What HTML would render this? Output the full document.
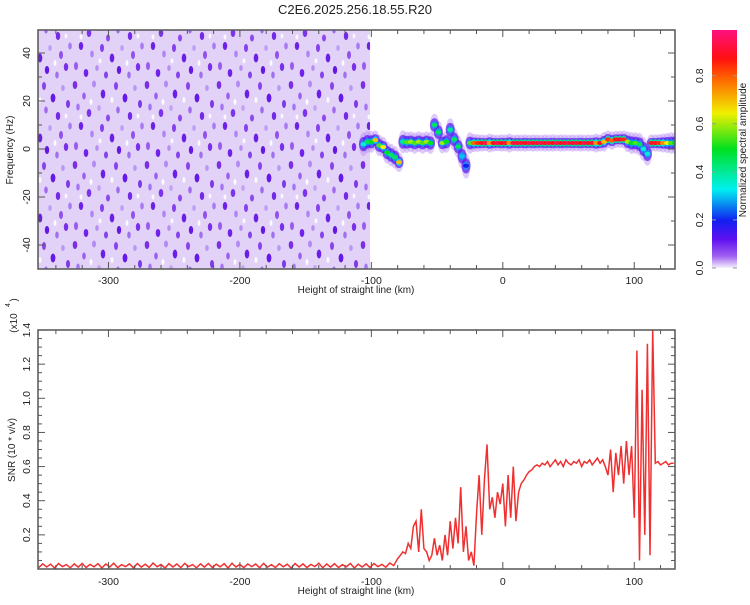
<!DOCTYPE html>
<html><head><meta charset="utf-8"><style>
body{margin:0;background:#fff;}
svg text{font-family:"Liberation Sans",sans-serif;fill:#222;}
</style></head><body>
<svg id="chart" width="750" height="600" xmlns="http://www.w3.org/2000/svg">
<defs>
<pattern id="noise" patternUnits="userSpaceOnUse" width="72" height="80">
<rect width="72" height="80" fill="#e2d2f8"/>
<ellipse cx="3" cy="5" rx="2.3" ry="4" fill="#7a2ee8"/>
<ellipse cx="12" cy="16" rx="1.8" ry="3.5" fill="#9c5cf0"/>
<ellipse cx="22" cy="4" rx="2" ry="3.5" fill="#b48af3"/>
<ellipse cx="31" cy="14" rx="2.3" ry="4.5" fill="#6a1ee6"/>
<ellipse cx="6" cy="27" rx="1.8" ry="3.5" fill="#a576f2"/>
<ellipse cx="17" cy="33" rx="2.3" ry="4" fill="#7c34ea"/>
<ellipse cx="27" cy="28" rx="1.8" ry="3" fill="#c3a2f5"/>
<ellipse cx="36" cy="38" rx="2" ry="3.5" fill="#8e48ee"/>
<ellipse cx="44" cy="6" rx="2" ry="4" fill="#8a44ee"/>
<ellipse cx="53" cy="18" rx="2.4" ry="4.5" fill="#6618e6"/>
<ellipse cx="63" cy="8" rx="1.8" ry="3" fill="#b896f4"/>
<ellipse cx="68" cy="24" rx="2" ry="4" fill="#7f38ea"/>
<ellipse cx="46" cy="30" rx="1.8" ry="3.5" fill="#a06cf0"/>
<ellipse cx="58" cy="36" rx="2.2" ry="4" fill="#7428e8"/>
<ellipse cx="9" cy="46" rx="2.2" ry="4" fill="#6c22e6"/>
<ellipse cx="20" cy="54" rx="1.8" ry="3.5" fill="#b084f3"/>
<ellipse cx="30" cy="48" rx="2" ry="4" fill="#8440ec"/>
<ellipse cx="40" cy="58" rx="2.3" ry="4.5" fill="#6a1ee6"/>
<ellipse cx="50" cy="48" rx="1.8" ry="3" fill="#c0a0f5"/>
<ellipse cx="61" cy="55" rx="2" ry="4" fill="#9050ee"/>
<ellipse cx="70" cy="46" rx="1.8" ry="3.5" fill="#a878f2"/>
<ellipse cx="4" cy="66" rx="2" ry="4" fill="#9a5af0"/>
<ellipse cx="14" cy="73" rx="2.3" ry="4" fill="#7022e8"/>
<ellipse cx="25" cy="68" rx="1.8" ry="3" fill="#b890f4"/>
<ellipse cx="34" cy="75" rx="2" ry="3.5" fill="#8444ec"/>
<ellipse cx="47" cy="70" rx="2.2" ry="4" fill="#6418e4"/>
<ellipse cx="57" cy="75" rx="1.8" ry="3.5" fill="#a070f0"/>
<ellipse cx="66" cy="67" rx="2.2" ry="4" fill="#7a30e8"/>
<ellipse cx="19" cy="22" rx="1.5" ry="3" fill="#fbf8fe"/>
<ellipse cx="9" cy="37" rx="1.5" ry="2.5" fill="#fbf8fe"/>
<ellipse cx="40" cy="20" rx="1.5" ry="3" fill="#fbf8fe"/>
<ellipse cx="55" cy="63" rx="1.5" ry="3" fill="#fbf8fe"/>
<ellipse cx="28" cy="61" rx="1.5" ry="2.5" fill="#fbf8fe"/>
<ellipse cx="66" cy="36" rx="1.3" ry="2.5" fill="#fbf8fe"/>
</pattern>
<clipPath id="topclip"><rect x="38" y="30" width="637" height="239"/></clipPath>
<clipPath id="botclip"><rect x="38" y="330" width="637" height="239"/></clipPath>
<linearGradient id="cbar" x1="0" y1="1" x2="0" y2="0">
<stop offset="0" stop-color="#f6f0fc"/><stop offset="0.05" stop-color="#a060f0"/>
<stop offset="0.12" stop-color="#6010f0"/><stop offset="0.2" stop-color="#1020f0"/>
<stop offset="0.33" stop-color="#00f0f0"/><stop offset="0.5" stop-color="#00e020"/>
<stop offset="0.65" stop-color="#f0f000"/><stop offset="0.8" stop-color="#ff6000"/>
<stop offset="0.88" stop-color="#ff1010"/><stop offset="1" stop-color="#ff1080"/>
</linearGradient>
</defs>
<text x="355" y="14" font-size="13" text-anchor="middle">C2E6.2025.256.18.55.R20</text>
<g id="top"></g>
<g id="bot"></g>
<g id="cb"></g>
</svg>
<script>
// ---- data ----
const xTicks = [-300,-200,-100,0,100];
const fTicks = [-40,-20,0,20,40];
const snrTicks = [0.2,0.4,0.6,0.8,1.0,1.2,1.4];
const cbTicks = [0.0,0.2,0.4,0.6,0.8];
const bandX = [-106,-103,-100,-97,-94,-91,-88,-85,-82,-79,-76,-73,-70,-67,-64,-61,-58,-55,-52,-49,-46,-43,-40,-37,-34,-31,-28,-25,-22,-19,-16,-13,-10,-7,-4,-1,2,5,8,11,14,17,20,23,26,29,32,35,38,41,44,47,50,53,56,59,62,65,68,71,74,77,80,83,86,89,92,95,98,101,104,107,110,113,116,119,122,125,128,131];
const bandF = [2,3,3,3.7,1.5,0.8,-1.5,-2.5,-3.5,-5.5,3,2.8,3,2.5,3,2.5,3,2.5,10,7,2.5,3,8,4,1,-3,-7,2.5,2.5,2.5,2.5,2.5,2.5,2.5,2.5,2.5,2.5,2.5,2.5,2.5,2.5,2.5,2.5,2.5,2.5,2.5,2.5,2.5,2.5,2.5,2.5,2.5,2.5,2.5,2.5,2.5,2.5,2.5,2.5,2.5,2.5,3,4,3.5,4,4,4,3,2.5,2.5,2,0,-2,2.5,2.5,2.5,2.5,2.5,2.5,2.5];
const bandA = [.35,.45,.5,.7,.55,.65,.5,.45,.45,.7,.4,.55,.6,.55,.6,.55,.6,.5,.45,.45,.6,.5,.4,.45,.45,.3,.2,.55,.8,.85,.9,.95,.75,.9,.95,.88,.92,.75,.95,.9,.93,.88,.95,.9,.92,.95,.9,.93,.88,.95,.9,.92,.95,.9,.93,.88,.95,.9,.92,.75,.9,.7,.85,.8,.9,.9,.85,.6,.5,.55,.45,.35,.35,.9,.9,.85,.75,.65,.55,.5];
const snrX = [-353,-350,-347,-344,-341,-338,-335,-332,-329,-326,-323,-320,-317,-314,-311,-308,-305,-302,-299,-296,-293,-290,-287,-284,-281,-278,-275,-272,-269,-266,-263,-260,-257,-254,-251,-248,-245,-242,-239,-236,-233,-230,-227,-224,-221,-218,-215,-212,-209,-206,-203,-200,-197,-194,-191,-188,-185,-182,-179,-176,-173,-170,-167,-164,-161,-158,-155,-152,-149,-146,-143,-140,-137,-134,-131,-128,-125,-122,-119,-116,-113,-110,-107,-104,-101,-98,-95,-92,-89,-86,-83,
-80,-78,-76,-74,-72,-70,-68,-66,-64,-62,-60,-58,-56,-54,-52,-50,-48,-46,-44,-42,-40,-38,-36,-34,-32,-30,-28,-26,-24,-22,-20,-18,-16,-14,-12,-10,-8,-6,-4,-2,0,2,4,6,8,10,12,14,16,18,20,22,24,26,28,30,32,34,36,38,40,42,44,46,48,50,52,54,56,58,60,62,64,66,68,70,72,74,76,78,80,82,84,86,88,90,92,94,96,98,100,102,104,106,108,110,112,114,116,118,120,122,124,126,128,130];
const snrY = [.008,.03,.012,.028,.006,.032,.014,.026,.007,.03,.011,.033,.009,.027,.013,.031,.006,.029,.012,.034,.008,.026,.014,.03,.007,.032,.011,.028,.009,.035,.013,.027,.006,.031,.012,.029,.008,.033,.014,.026,.007,.03,.011,.032,.009,.028,.013,.031,.006,.034,.012,.027,.008,.03,.014,.029,.007,.033,.011,.026,.009,.031,.013,.028,.006,.032,.012,.03,.008,.027,.014,.034,.007,.029,.011,.031,.009,.026,.013,.033,.006,.028,.012,.03,.008,.032,.014,.027,.01,.035,.02,
.06,.08,.1,.09,.15,.12,.25,.28,.1,.35,.12,.1,.05,.08,.18,.08,.14,.05,.2,.08,.28,.12,.3,.15,.48,.1,.25,.05,.1,.02,.32,.55,.2,.52,.73,.35,.42,.3,.45,.38,.5,.25,.55,.3,.6,.28,.45,.5,.52,.55,.57,.58,.6,.61,.6,.62,.61,.63,.6,.62,.64,.61,.63,.6,.64,.62,.61,.63,.62,.64,.6,.63,.62,.64,.61,.63,.65,.62,.64,.6,.55,.7,.45,.68,.55,.72,.5,.75,.55,.72,.3,1.28,.05,1.05,.2,1.32,.08,1.4,.62,.63,.61,.62,.63,.61,.62,.62];

// ---- axes ----
const L=38,R=675,TT=30,TB=269,BT=330,BB=569;
const X0=-353.6,X1=131;
const sx=v=>L+(v-X0)/(X1-X0)*(R-L);
const syTop=f=>149-f*2.4;
const syBot=v=>BB-v*170.7;
const NS='http://www.w3.org/2000/svg';
function mk(tag,attrs,parent){const e=document.createElementNS(NS,tag);for(const k in attrs)e.setAttribute(k,attrs[k]);parent.appendChild(e);return e;}
function txt(parent,x,y,s,size,anchor,rot){const t=mk('text',{x:x,y:y,'font-size':size,'text-anchor':anchor||'middle'},parent);if(rot)t.setAttribute('transform','rotate(-90 '+x+' '+y+')');t.textContent=s;return t;}
function cmap(a){
 const st=[[0,[246,240,252]],[.05,[160,96,240]],[.12,[96,16,240]],[.2,[16,32,240]],[.33,[0,240,240]],[.5,[0,224,32]],[.65,[240,240,0]],[.8,[255,96,0]],[.88,[255,16,16]],[1,[255,16,128]]];
 for(let i=1;i<st.length;i++){if(a<=st[i][0]){const t=(a-st[i-1][0])/(st[i][0]-st[i-1][0]);const c=st[i-1][1].map((v,j)=>Math.round(v+(st[i][1][j]-v)*t));return 'rgb('+c+')';}}
 return 'rgb(255,16,128)';
}
const topG=document.getElementById('top'),botG=document.getElementById('bot'),cbG=document.getElementById('cb');

// top panel
const tg=mk('g',{'clip-path':'url(#topclip)'},topG);
const nz=mk('rect',{x:L,y:TT,width:sx(-101)-L,height:TB-TT,fill:'url(#noise)'},tg);


const layers=[[0,10,'#b58af4',.45],[0,6,'#5a20f0',.75],[0,3.8,null,.9],[0,2,null,1]];
layers.forEach((ly,li)=>{
 bandX.forEach((v,i)=>{
  const a=bandA[i];
  let col=ly[2];
  if(li===2)col=cmap(Math.max(0.28,a*0.45));
  if(li===3)col=cmap(a);
  const e=mk('ellipse',{cx:sx(v),cy:syTop(bandF[i]),rx:li<2?4.5:3,ry:ly[1]*(li<2?(1.4-a*0.6):1),fill:col,opacity:ly[3]},tg);
  
  
 });
});
mk('rect',{x:L,y:TT,width:R-L,height:TB-TT,fill:'none',stroke:'#555','stroke-width':1.5},topG);
for(let v=-340;v<=130;v+=20){const x=sx(v),maj=v%100===0;mk('line',{x1:x,y1:TB,x2:x,y2:TB-(maj?7:4),stroke:'#555'},topG);mk('line',{x1:x,y1:TT,x2:x,y2:TT+(maj?7:4),stroke:'#555'},topG);}
for(let f=-50;f<=50;f+=10){const y=syTop(f);if(y<TT||y>TB)continue;const maj=f%20===0;mk('line',{x1:L,y1:y,x2:L+(maj?7:4),y2:y,stroke:'#555'},topG);mk('line',{x1:R,y1:y,x2:R-(maj?7:4),y2:y,stroke:'#555'},topG);}
xTicks.forEach(v=>{const t=txt(topG,sx(v),284,String(v),10.5);});
fTicks.forEach(f=>{const t=txt(topG,30,syTop(f),String(f),10.5,'middle',true);});
let t1=txt(topG,356,293,'Height of straight line (km)',10);
let t2=txt(topG,13,150,'Frequency (Hz)',10,'middle',true);

// bottom panel
const bg=mk('g',{'clip-path':'url(#botclip)'},botG);
const pts=snrX.map((v,i)=>sx(v).toFixed(1)+','+syBot(snrY[i]).toFixed(1)).join(' ');
const pl=mk('polyline',{points:pts,fill:'none',stroke:'#f03030','stroke-width':1.5},bg);


mk('rect',{x:L,y:BT,width:R-L,height:BB-BT,fill:'none',stroke:'#555','stroke-width':1.5},botG);
for(let v=-340;v<=130;v+=20){const x=sx(v),maj=v%100===0;mk('line',{x1:x,y1:BB,x2:x,y2:BB-(maj?7:4),stroke:'#555'},botG);mk('line',{x1:x,y1:BT,x2:x,y2:BT+(maj?7:4),stroke:'#555'},botG);}
for(let k=1;k<=28;k++){const v=k*0.05,y=syBot(v),maj=k%4===0;mk('line',{x1:L,y1:y,x2:L+(maj?7:4),y2:y,stroke:'#555'},botG);mk('line',{x1:R,y1:y,x2:R-(maj?7:4),y2:y,stroke:'#555'},botG);}
xTicks.forEach(v=>{const t=txt(botG,sx(v),585,String(v),10.5);});
snrTicks.forEach(v=>{const t=txt(botG,30,syBot(v),v.toFixed(1),10.5,'middle',true);});
let t3=txt(botG,356,594,'Height of straight line (km)',10);
let t4=txt(botG,15,450,'SNR (10 * v/v)',10,'middle',true);
let t5=txt(botG,17,323,'(x10',10,'middle',true);
let t6=txt(botG,10,305,'4',7,'middle',true);
let t7=txt(botG,17,300,')',10,'middle',true);

// colorbar
const cr=mk('rect',{x:712,y:30,width:25,height:238,fill:'url(#cbar)'},cbG);


cbTicks.forEach(v=>{const y=268-v/0.99*238;mk('line',{x1:712,y1:y,x2:716,y2:y,stroke:'#999'},cbG);mk('line',{x1:733,y1:y,x2:737,y2:y,stroke:'#999'},cbG);const t=txt(cbG,703,y,v.toFixed(1),10.5,'middle',true);});
let t8=txt(cbG,746,150,'Normalized spectral amplitude',10,'middle',true);
</script>
</body></html>
